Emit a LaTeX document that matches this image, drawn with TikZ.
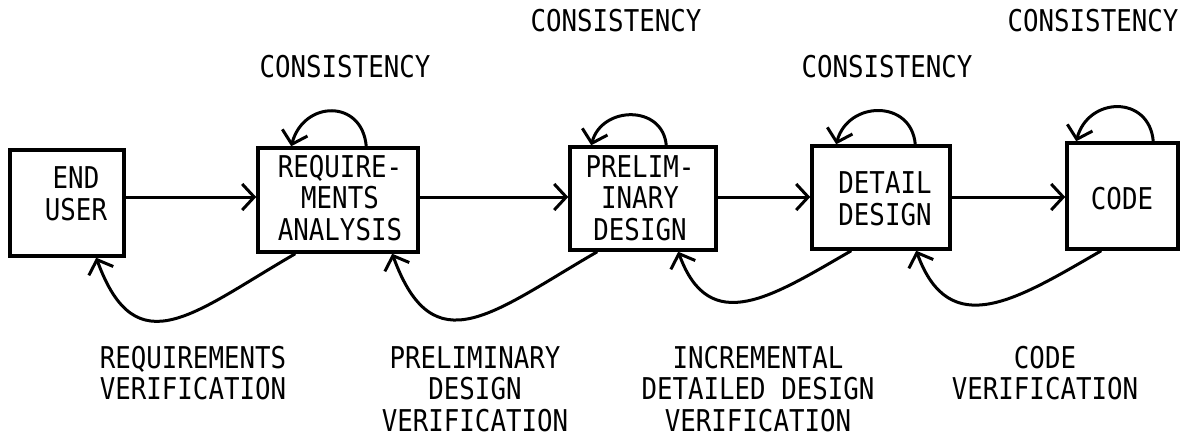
\documentclass[tikz,border=0pt]{standalone}
\usepackage{fontspec}
\newfontfamily\tw[FakeStretch=0.86]{DejaVu Sans Mono}
\usetikzlibrary{arrows.meta}
\begin{document}
\begin{tikzpicture}[x=1pt,y=1pt,
  box/.style={draw, line width=3.5pt, inner sep=0pt},
  lbl/.style={font=\tw\fontsize{30pt}{31.5pt}\selectfont, align=center, inner sep=0pt},
  flow/.style={line width=3pt, -{Straight Barb[length=12pt,width=26pt,line width=3pt]}}
  ]
\useasboundingbox (0,0) rectangle (1197,-437);
% boxes
\node[box, minimum width=114pt, minimum height=106pt] (eu) at (67,-203) {};
\node[box, minimum width=160pt, minimum height=104pt] (ra) at (338,-200) {};
\node[box, minimum width=146pt, minimum height=103pt] (pd) at (643,-198.5) {};
\node[box, minimum width=138pt, minimum height=103pt] (dd) at (881,-197.5) {};
\node[box, minimum width=111pt, minimum height=106pt] (co) at (1122.5,-196) {};
% box texts
\node[lbl] (teu) at (76,-194) {END\\USER};
\node[lbl] (tra) at (340,-198) {REQUIRE-\\MENTS\\ANALYSIS};
\node[lbl] (tpd) at (640,-198) {PRELIM-\\INARY\\DESIGN};
\node[lbl] (tdd) at (885,-199) {DETAIL\\DESIGN};
\node[lbl] (tco) at (1122,-199) {CODE};
% consistency labels
\node[lbl] (c1) at (616,-21) {CONSISTENCY};
\node[lbl] (c2) at (1093,-21) {CONSISTENCY};
\node[lbl] (c3) at (345,-67) {CONSISTENCY};
\node[lbl] (c4) at (887,-67) {CONSISTENCY};
% verification labels
\node[lbl] (v1) at (193,-373) {REQUIREMENTS\\VERIFICATION};
\node[lbl] (v2) at (475,-389) {PRELIMINARY\\DESIGN\\VERIFICATION};
\node[lbl] (v3) at (758,-389) {INCREMENTAL\\DETAILED DESIGN\\VERIFICATION};
\node[lbl] (v4) at (1045,-373) {CODE\\VERIFICATION};
% forward arrows
\coordinate (h) at (0,-197);
\draw[flow] (eu.east |- h) -- (ra.west |- h);
\draw[flow] (ra.east |- h) -- (pd.west |- h);
\draw[flow] (pd.east |- h) -- (dd.west |- h);
\draw[flow] (dd.east |- h) -- (co.west |- h);
% consistency loops
\draw[flow] ([xshift=110pt]ra.north west) to[out=95,in=75,looseness=1.63] ([xshift=35pt]ra.north west);
\draw[flow] ([xshift=98pt]pd.north west) to[out=95,in=75,looseness=1.4] ([xshift=23pt]pd.north west);
\draw[flow] ([xshift=105pt]dd.north west) to[out=95,in=75,looseness=1.47] ([xshift=26pt]dd.north west);
\draw[flow] ([xshift=88pt]co.north west) to[out=95,in=75,looseness=1.55] ([xshift=11pt]co.north west);
% verification feedback
\draw[flow] ([xshift=39pt]ra.south west) to[out=210,in=-70,looseness=1.5] ([xshift=88pt]eu.south west);
\draw[flow] ([xshift=29pt]pd.south west) to[out=210,in=-70,looseness=1.5] ([xshift=136pt]ra.south west);
\draw[flow] ([xshift=41pt]dd.south west) to[out=210,in=-70,looseness=1.35] ([xshift=110pt]pd.south west);
\draw[flow] ([xshift=36pt]co.south west) to[out=210,in=-70,looseness=1.35] ([xshift=106pt]dd.south west);
\end{tikzpicture}
\end{document}
